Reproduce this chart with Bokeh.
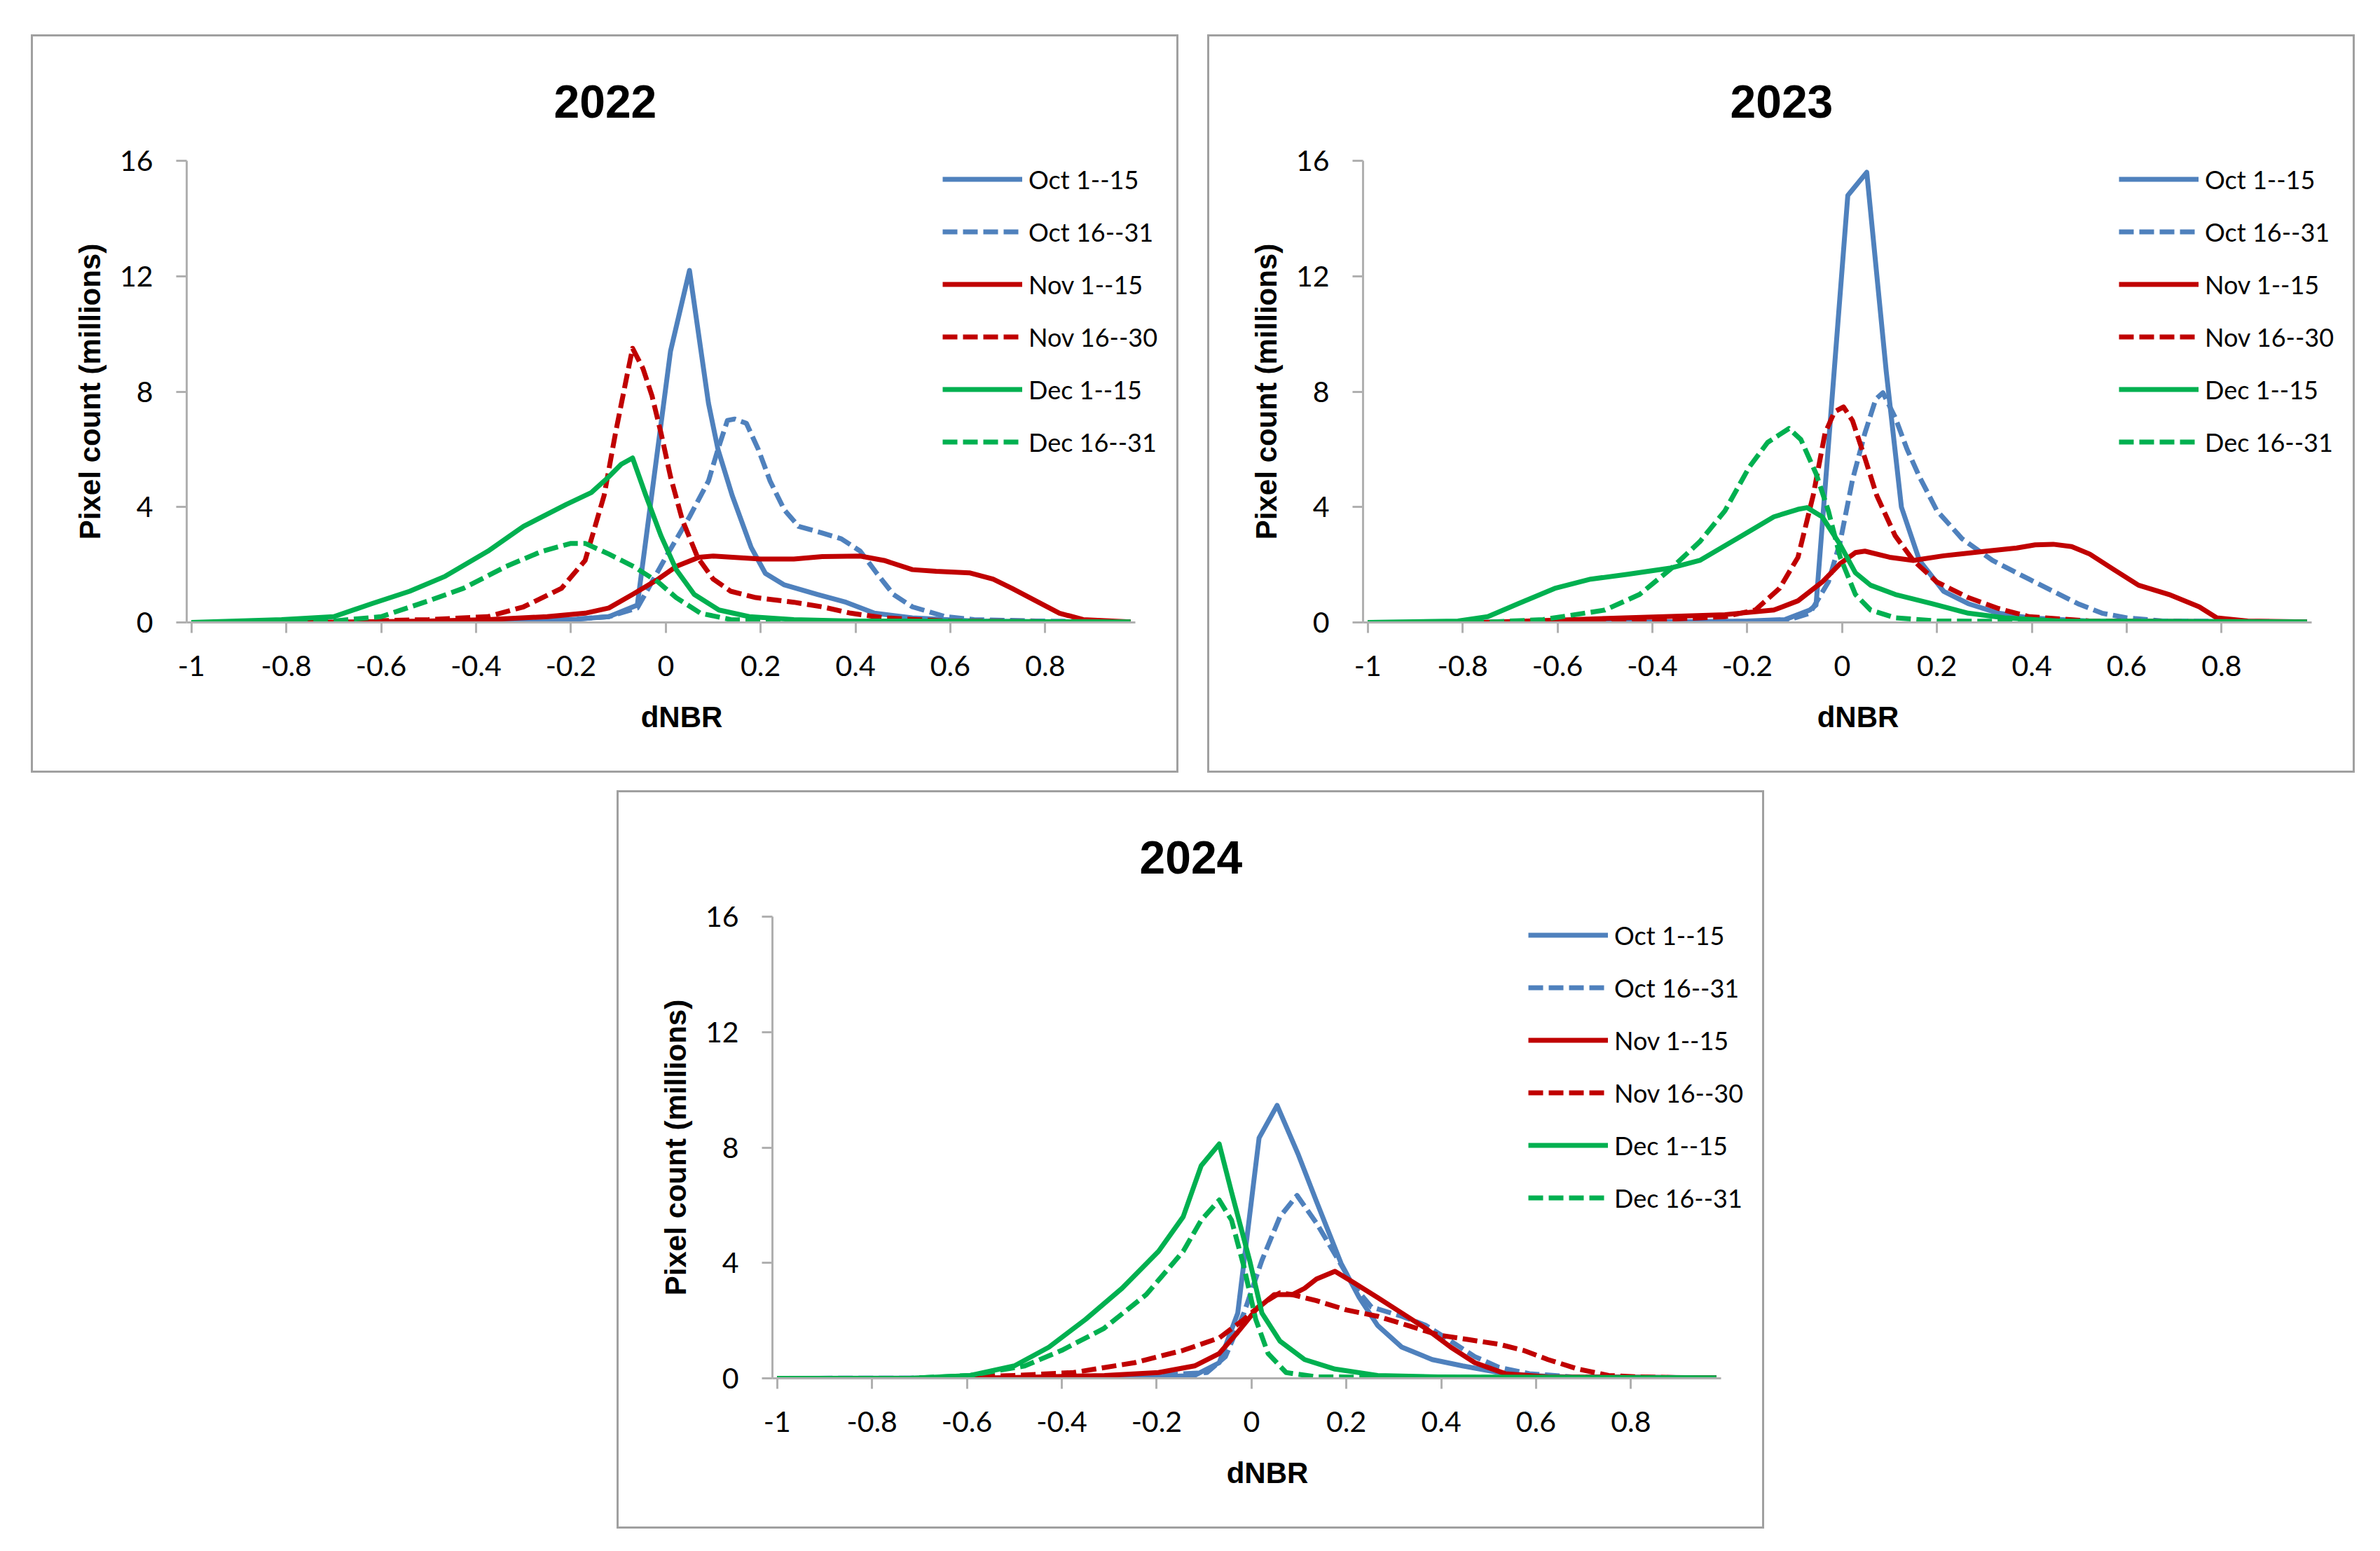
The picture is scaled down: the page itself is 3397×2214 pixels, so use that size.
from bokeh.plotting import figure
from bokeh.models import Range1d, FixedTicker, Legend, LegendItem, Spacer, Title
from bokeh.layouts import column, row
from bokeh.embed import file_html
from bokeh.resources import INLINE

# ---------------- data ----------------
series_names = ["Oct 1--15", "Oct 16--31", "Nov 1--15", "Nov 16--30", "Dec 1--15", "Dec 16--31"]
series_colors = ["#4F81BD", "#4F81BD", "#C00000", "#C00000", "#00B050", "#00B050"]
series_dashes = ["solid", "21 8", "solid", "21 8", "solid", "21 8"]

x_ticks = [-1.0, -0.8, -0.6, -0.4, -0.2, 0.0, 0.2, 0.4, 0.6, 0.8]
x_tick_labels = ["-1", "-0.8", "-0.6", "-0.4", "-0.2", "0", "0.2", "0.4", "0.6", "0.8"]
y_ticks = [0, 4, 8, 12, 16]

# 2022
x22_oct1 = [-1.0, -0.5, -0.3, -0.2, -0.12, -0.06, 0.01, 0.05, 0.09, 0.11, 0.14, 0.18, 0.21, 0.25, 0.32, 0.38, 0.44, 0.52, 0.65, 0.8, 0.98]
y22_oct1 = [0, 0.02, 0.05, 0.1, 0.2, 0.6, 9.4, 12.2, 7.6, 6.0, 4.4, 2.6, 1.7, 1.3, 0.97, 0.7, 0.32, 0.16, 0.05, 0.02, 0.02]
x22_oct16 = [-1.0, -0.4, -0.2, -0.12, -0.06, 0.0, 0.05, 0.09, 0.11, 0.13, 0.145, 0.17, 0.195, 0.22, 0.25, 0.28, 0.33, 0.37, 0.41, 0.445, 0.48, 0.52, 0.59, 0.65, 0.78, 0.98]
y22_oct16 = [0, 0.02, 0.1, 0.2, 0.5, 2.26, 3.66, 4.9, 6.0, 7.0, 7.05, 6.9, 6.0, 4.9, 3.9, 3.33, 3.1, 2.9, 2.47, 1.7, 0.97, 0.54, 0.2, 0.1, 0.05, 0.02]
x22_nov1 = [-1.0, -0.76, -0.5, -0.375, -0.25, -0.17, -0.12, -0.07, -0.016, 0.022, 0.07, 0.1, 0.2, 0.27, 0.33, 0.41, 0.46, 0.52, 0.57, 0.64, 0.69, 0.73, 0.78, 0.83, 0.88, 0.98]
y22_nov1 = [0, 0, 0.05, 0.1, 0.2, 0.32, 0.5, 0.97, 1.5, 1.94, 2.26, 2.3, 2.2, 2.2, 2.28, 2.3, 2.15, 1.83, 1.77, 1.72, 1.5, 1.18, 0.75, 0.32, 0.1, 0.02]
x22_nov16 = [-1.0, -0.75, -0.5, -0.375, -0.3, -0.22, -0.17, -0.13, -0.106, -0.08, -0.07, -0.048, -0.029, -0.01, 0.01, 0.035, 0.067, 0.1, 0.137, 0.19, 0.27, 0.33, 0.39, 0.46, 0.59, 0.98]
y22_nov16 = [0, 0, 0.1, 0.2, 0.54, 1.18, 2.15, 4.4, 6.56, 8.7, 9.5, 8.8, 7.85, 6.56, 5.05, 3.55, 2.26, 1.5, 1.08, 0.86, 0.7, 0.54, 0.32, 0.16, 0.05, 0]
x22_dec1 = [-1.0, -0.81, -0.7, -0.62, -0.54, -0.465, -0.375, -0.3, -0.21, -0.157, -0.12, -0.094, -0.07, -0.042, -0.01, 0.022, 0.06, 0.112, 0.176, 0.27, 0.39, 0.98]
y22_dec1 = [0, 0.1, 0.2, 0.65, 1.08, 1.6, 2.47, 3.33, 4.09, 4.5, 5.05, 5.48, 5.7, 4.4, 3.0, 1.83, 0.97, 0.43, 0.2, 0.1, 0.05, 0.02]
x22_dec16 = [-1.0, -0.75, -0.7, -0.6, -0.5, -0.427, -0.337, -0.26, -0.2, -0.17, -0.12, -0.068, -0.016, 0.022, 0.073, 0.137, 0.27, 0.98]
y22_dec16 = [0, 0, 0.05, 0.2, 0.75, 1.18, 1.94, 2.47, 2.74, 2.74, 2.37, 1.94, 1.4, 0.86, 0.32, 0.1, 0.05, 0]

# 2023
x23_oct1 = [-1.0, -0.4, -0.2, -0.12, -0.068, -0.055, 0.012, 0.052, 0.093, 0.125, 0.163, 0.214, 0.266, 0.33, 0.394, 0.52, 0.98]
y23_oct1 = [0, 0.02, 0.05, 0.1, 0.43, 0.6, 14.8, 15.6, 8.7, 4.0, 2.15, 1.08, 0.65, 0.32, 0.16, 0.05, 0.02]
x23_oct16 = [-1.0, -0.4, -0.12, -0.068, -0.029, -0.004, 0.022, 0.048, 0.071, 0.086, 0.112, 0.137, 0.163, 0.2, 0.253, 0.317, 0.394, 0.445, 0.497, 0.548, 0.6, 0.676, 0.98]
y23_oct16 = [0, 0.02, 0.05, 0.32, 1.4, 2.8, 4.95, 6.56, 7.74, 7.96, 7.1, 6.0, 5.05, 3.87, 2.9, 2.15, 1.5, 1.08, 0.65, 0.32, 0.16, 0.05, 0.02]
x23_nov1 = [-1.0, -0.76, -0.567, -0.375, -0.247, -0.144, -0.093, -0.042, -0.004, 0.028, 0.048, 0.1, 0.15, 0.214, 0.304, 0.368, 0.407, 0.445, 0.484, 0.522, 0.573, 0.625, 0.689, 0.753, 0.79, 0.855, 0.98]
y23_nov1 = [0, 0, 0.1, 0.2, 0.27, 0.43, 0.75, 1.4, 2.04, 2.42, 2.47, 2.26, 2.15, 2.31, 2.47, 2.58, 2.69, 2.71, 2.63, 2.37, 1.83, 1.29, 0.97, 0.54, 0.16, 0.05, 0.02]
x23_nov16 = [-1.0, -0.63, -0.375, -0.247, -0.183, -0.132, -0.093, -0.061, -0.036, -0.016, 0.003, 0.022, 0.048, 0.073, 0.112, 0.15, 0.2, 0.266, 0.33, 0.394, 0.522, 0.98]
y23_nov16 = [0, 0, 0.1, 0.2, 0.43, 1.18, 2.26, 4.4, 6.56, 7.3, 7.47, 6.99, 5.7, 4.4, 3.0, 2.15, 1.4, 0.86, 0.48, 0.2, 0.05, 0]
x23_dec1 = [-1.0, -0.81, -0.747, -0.683, -0.606, -0.53, -0.452, -0.363, -0.3, -0.222, -0.144, -0.093, -0.074, -0.042, -0.004, 0.028, 0.06, 0.112, 0.189, 0.266, 0.343, 0.458, 0.98]
y23_dec1 = [0, 0.05, 0.2, 0.65, 1.18, 1.5, 1.67, 1.88, 2.15, 2.9, 3.66, 3.92, 3.98, 3.66, 2.69, 1.72, 1.29, 0.97, 0.65, 0.32, 0.16, 0.05, 0.02]
x23_dec16 = [-1.0, -0.76, -0.63, -0.5, -0.427, -0.363, -0.3, -0.247, -0.196, -0.157, -0.112, -0.087, -0.055, -0.029, -0.004, 0.028, 0.06, 0.112, 0.2, 0.98]
y23_dec16 = [0, 0, 0.1, 0.43, 0.97, 1.83, 2.8, 3.87, 5.38, 6.24, 6.72, 6.34, 5.16, 3.87, 2.26, 0.97, 0.43, 0.16, 0.05, 0]

# 2024
x24_oct1 = [-1.0, -0.4, -0.2, -0.12, -0.068, -0.029, 0.016, 0.054, 0.099, 0.137, 0.189, 0.227, 0.266, 0.317, 0.381, 0.445, 0.522, 0.586, 0.714, 0.98]
y24_oct1 = [0, 0.02, 0.05, 0.1, 0.54, 2.26, 8.33, 9.46, 7.74, 6.13, 3.98, 2.8, 1.83, 1.08, 0.65, 0.43, 0.2, 0.1, 0.02, 0.02]
x24_oct16 = [-1.0, -0.3, -0.094, -0.055, -0.016, 0.022, 0.06, 0.096, 0.137, 0.176, 0.214, 0.253, 0.317, 0.368, 0.42, 0.471, 0.522, 0.586, 0.676, 0.98]
y24_oct16 = [0, 0.02, 0.2, 0.75, 2.26, 4.09, 5.6, 6.34, 5.38, 4.3, 3.23, 2.47, 2.15, 1.83, 1.29, 0.75, 0.38, 0.16, 0.05, 0.02]
x24_nov1 = [-1.0, -0.59, -0.44, -0.31, -0.196, -0.12, -0.068, -0.029, 0.009, 0.048, 0.086, 0.112, 0.137, 0.176, 0.214, 0.266, 0.317, 0.368, 0.42, 0.471, 0.535, 0.625, 0.98]
y24_nov1 = [0, 0, 0.05, 0.1, 0.2, 0.43, 0.86, 1.6, 2.37, 2.9, 2.9, 3.12, 3.44, 3.71, 3.33, 2.8, 2.26, 1.72, 1.08, 0.54, 0.16, 0.05, 0.02]
x24_nov16 = [-1.0, -0.71, -0.5, -0.375, -0.247, -0.144, -0.068, -0.016, 0.022, 0.06, 0.086, 0.137, 0.2, 0.266, 0.33, 0.394, 0.458, 0.522, 0.573, 0.625, 0.689, 0.753, 0.817, 0.98]
y24_nov16 = [0, 0, 0.1, 0.2, 0.54, 0.97, 1.4, 2.04, 2.58, 2.96, 2.9, 2.69, 2.37, 2.15, 1.83, 1.5, 1.34, 1.18, 0.97, 0.65, 0.32, 0.1, 0.05, 0]
x24_dec1 = [-1.0, -0.72, -0.593, -0.5, -0.427, -0.35, -0.273, -0.196, -0.144, -0.106, -0.068, -0.042, -0.004, 0.022, 0.06, 0.112, 0.176, 0.266, 0.394, 0.98]
y24_dec1 = [0, 0, 0.1, 0.43, 1.08, 2.04, 3.12, 4.4, 5.6, 7.37, 8.12, 6.45, 4.09, 2.26, 1.29, 0.65, 0.32, 0.1, 0.05, 0.02]
x24_dec16 = [-1.0, -0.72, -0.593, -0.478, -0.4, -0.312, -0.222, -0.144, -0.106, -0.068, -0.042, -0.016, 0.009, 0.035, 0.073, 0.137, 0.98]
y24_dec16 = [0, 0, 0.1, 0.43, 0.97, 1.72, 2.9, 4.4, 5.48, 6.18, 5.48, 3.87, 2.04, 0.86, 0.2, 0.05, 0]

panels = {
    "2022": [(x22_oct1, y22_oct1), (x22_oct16, y22_oct16), (x22_nov1, y22_nov1),
             (x22_nov16, y22_nov16), (x22_dec1, y22_dec1), (x22_dec16, y22_dec16)],
    "2023": [(x23_oct1, y23_oct1), (x23_oct16, y23_oct16), (x23_nov1, y23_nov1),
             (x23_nov16, y23_nov16), (x23_dec1, y23_dec1), (x23_dec16, y23_dec16)],
    "2024": [(x24_oct1, y24_oct1), (x24_oct16, y24_oct16), (x24_nov1, y24_nov1),
             (x24_nov16, y24_nov16), (x24_dec1, y24_dec1), (x24_dec16, y24_dec16)],
}

TICK_FONT = "Lato"
BOLD_FONT = "Liberation Sans"
AXIS_GRAY = "#b0b0b0"

FRAME_W = 1413
X_START, X_AXIS_END = -1.01, 0.99
X_FRAME_END = X_START + FRAME_W / 677.0


def make_panel(year):
    p = figure(width=1638, height=1054,
               x_range=Range1d(X_START, X_FRAME_END), y_range=Range1d(0, 16),
               min_border_left=219, min_border_right=1638 - 219 - FRAME_W,
               min_border_top=177, min_border_bottom=218,
               output_backend="svg", toolbar_location=None,
               background_fill_color="white", border_fill_color="white",
               styles={"border": "3px solid #a0a0a0"})
    p.outline_line_color = None
    p.xgrid.visible = False
    p.ygrid.visible = False

    p.title = Title(text=year, align="left", offset=524, standoff=122,
                    vertical_align="middle",
                    text_font=BOLD_FONT, text_font_style="bold",
                    text_font_size="66px", text_color="#000000")

    renderers = []
    for (xs, ys), col, dash in zip(panels[year], series_colors, series_dashes):
        r = p.line(xs, ys, line_color=col, line_width=7, line_dash=dash,
                   line_join="round")
        renderers.append(r)

    for ax in (p.xaxis[0], p.yaxis[0]):
        ax.axis_line_color = AXIS_GRAY
        ax.axis_line_width = 3
        ax.major_tick_line_color = AXIS_GRAY
        ax.major_tick_line_width = 3
        ax.major_tick_out = 15
        ax.major_tick_in = 0
        ax.minor_tick_line_color = None
        ax.major_label_text_font = TICK_FONT
        ax.major_label_text_font_size = "41px"
        ax.major_label_text_color = "#000000"
        ax.axis_label_text_font = BOLD_FONT
        ax.axis_label_text_font_style = "bold"
        ax.axis_label_text_font_size = "42px"
        ax.axis_label_text_color = "#000000"

    p.xaxis.bounds = (X_START, X_AXIS_END)
    p.xaxis.ticker = FixedTicker(ticks=x_ticks)
    p.xaxis.major_label_overrides = dict(zip(x_ticks, x_tick_labels))
    p.xaxis.major_label_standoff = 32
    p.xaxis.axis_label = "dNBR"
    p.xaxis.axis_label_standoff = 32

    p.yaxis.ticker = FixedTicker(ticks=y_ticks)
    p.yaxis.major_label_standoff = 33
    p.yaxis.axis_label = "Pixel count (millions)"
    p.yaxis.axis_label_standoff = 16

    items = [LegendItem(label=n, renderers=[r]) for n, r in zip(series_names, renderers)]
    legend = Legend(items=items, location=(1079, 220), orientation="vertical",
                    glyph_width=114, glyph_height=75, label_height=75,
                    label_standoff=9, padding=0, spacing=0, margin=0,
                    border_line_color=None, background_fill_alpha=0,
                    label_text_font=TICK_FONT, label_text_font_size="36px",
                    label_text_color="#000000")
    p.add_layout(legend)
    return p


p1 = make_panel("2022")
p2 = make_panel("2023")
p3 = make_panel("2024")

layout = column(
    Spacer(height=49),
    row(Spacer(width=44), p1, Spacer(width=41), p2),
    Spacer(height=25),
    row(Spacer(width=880), p3),
)

open("out.html", "w").write(file_html(layout, INLINE))
